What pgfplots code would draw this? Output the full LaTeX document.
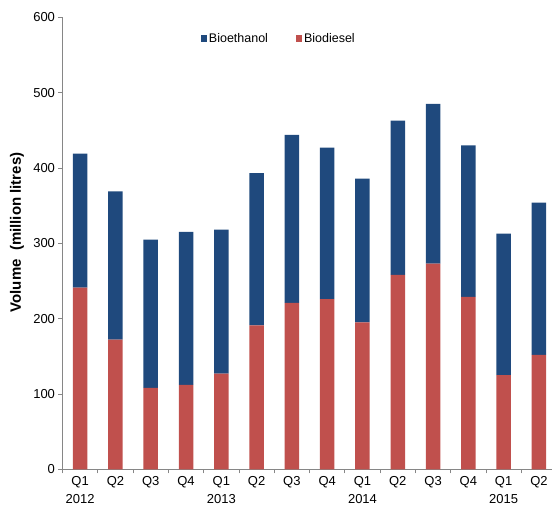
\documentclass[border=0pt]{standalone}
\usepackage{pgfplots}
\pgfplotsset{compat=1.18}
\usepackage{fontspec}
\setmainfont{Liberation Sans}
\definecolor{ethanol}{HTML}{1F497D}
\definecolor{diesel}{HTML}{C0504D}
\definecolor{axisgray}{HTML}{868686}

\begin{document}
\begin{tikzpicture}
\begin{axis}[
    at={(0,0)}, anchor=south west,
    scale only axis,
    width=489.5pt, height=452pt,
    xmin=-0.5, xmax=13.37,
    ymin=0, ymax=600,
    ybar stacked,
    bar width=14.5pt,
    axis x line*=bottom,
    axis y line*=left,
    axis line style={axisgray, line width=0.8pt},
    tick style={axisgray, line width=0.8pt},
    tick align=outside,
    major tick length=4pt,
    ytick={0,100,...,600},
    xtick={-0.5,0.5,...,12.5},
    xticklabels={{Q1\\2012},Q2,Q3,Q4,{Q1\\2013},Q2,Q3,Q4,{Q1\\2014},Q2,Q3,Q4,{Q1\\2015},Q2},
    xticklabel style={align=center, xshift=17.65pt},
    tick label style={font=\fontsize{13}{18}\selectfont, black},
    /pgf/number format/assume math mode=true,
    every axis y label/.style={at={(axis description cs:-0.093,0.524)}, rotate=90, anchor=center},
    ylabel={\fontsize{15}{17}\selectfont\bfseries Volume\ \ (million litres)},
    legend columns=2,
    reverse legend,
    legend style={draw=none, fill=none, at={(axis description cs:0.442,0.952)}, anchor=center,
        font=\fontsize{12.5}{14}\selectfont, /tikz/every even column/.append style={column sep=26pt}},
    legend image code/.code={\fill[#1] (0pt,-3pt) rectangle (6pt,4pt);},
]
\addplot[fill=diesel, draw=none] coordinates {
    (0,241) (1,172) (2,108) (3,112) (4,127) (5,191) (6,221)
    (7,226) (8,195) (9,258) (10,273) (11,229) (12,125) (13,152)
};
\addlegendentry{Biodiesel}
\addplot[fill=ethanol, draw=none] coordinates {
    (0,178) (1,197) (2,197) (3,203) (4,191) (5,202) (6,223)
    (7,201) (8,191) (9,205) (10,212) (11,201) (12,188) (13,202)
};
\addlegendentry{Bioethanol}
\end{axis}
\pgfresetboundingbox
\useasboundingbox (-62.5pt,-40.7pt) rectangle (489.5pt,469.3pt);
\end{tikzpicture}
\end{document}
